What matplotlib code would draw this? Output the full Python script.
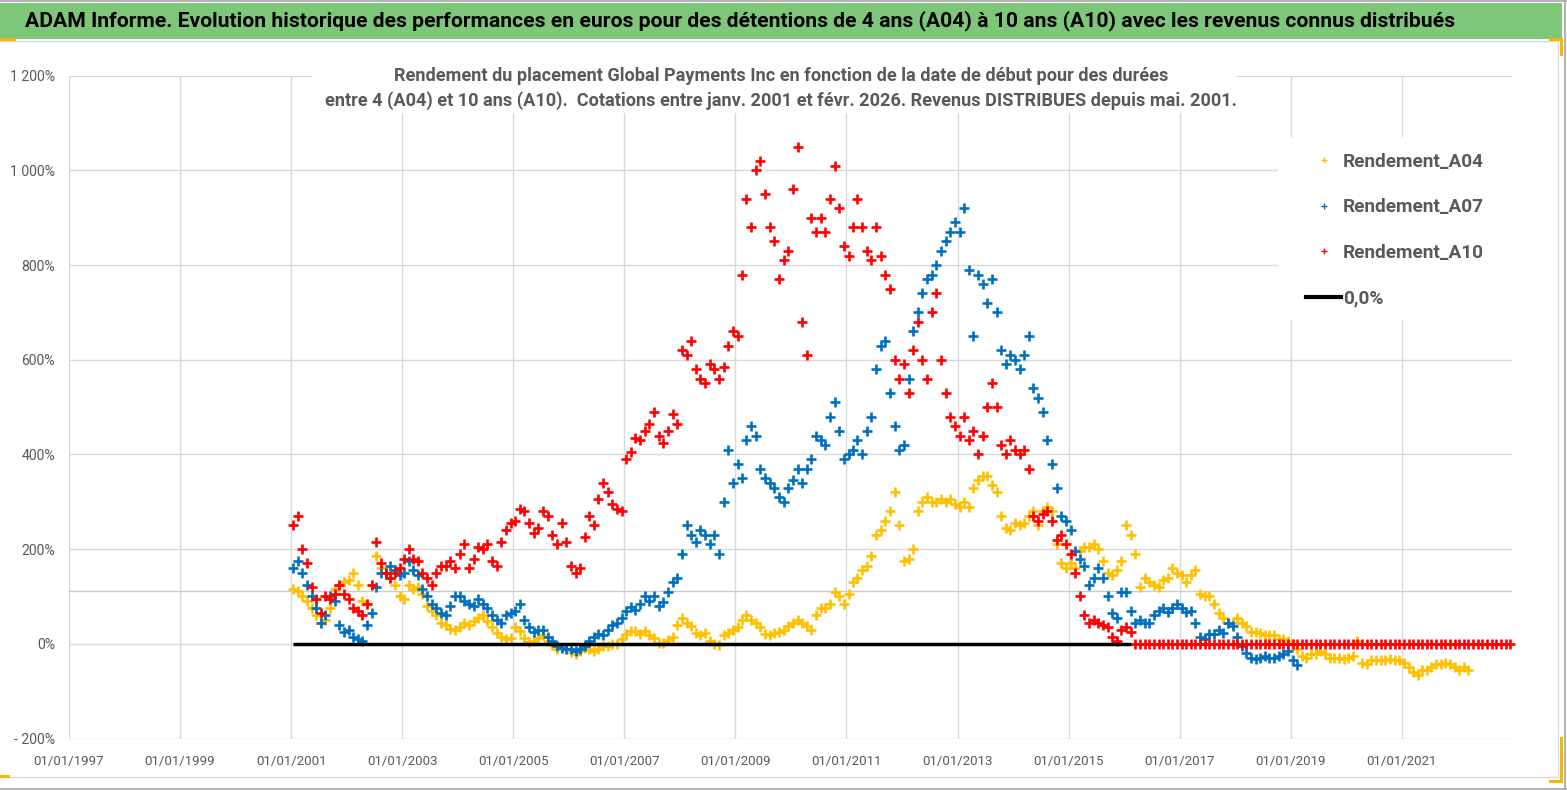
import datetime as dt
import matplotlib
matplotlib.use("Agg")
import matplotlib.pyplot as plt
import matplotlib.dates as mdates
from matplotlib.patches import Rectangle
from matplotlib.lines import Line2D

# ---------------- data ----------------
title = ("ADAM Informe. Evolution historique des performances en euros pour des détentions "
         "de 4 ans (A04) à 10 ans (A10) avec les revenus connus distribués")
subtitle_l1 = "Rendement du placement Global Payments Inc en fonction de la date de début pour des durées"
subtitle_l2 = ("entre 4 (A04) et 10 ans (A10).  Cotations entre janv. 2001 et févr. 2026. "
               "Revenus DISTRIBUES depuis mai. 2001.")
series_names = ["Rendement_A04", "Rendement_A07", "Rendement_A10"]
zero_name = "0,0%"
start_year = 2001  # monthly points from January 2001

a04 = [
    115, 112, 100, 90, 75, 60, 45, 50, 75, 115, 125, 130,
    135, 150, 125, 90, 85, 125, 185, 160, 150, 140, 125, 100,
    95, 125, 115, 120, 105, 80, 70, 60, 45, 40, 32, 30,
    35, 45, 40, 48, 55, 60, 48, 35, 22, 15, 10, 12,
    35, 28, 12, 3, 5, 12, 18, 5, -3, -12, -8, -12,
    -18, -22, -15, -8, -12, -15, -12, -5, -5, 0, 0, 10,
    20, 28, 28, 20, 28, 18, 12, 2, 2, 8, 15, 40,
    55, 45, 38, 22, 18, 22, 5, 0, -2, 18, 22, 30,
    35, 50, 60, 50, 45, 35, 20, 18, 22, 25, 30, 38,
    45, 50, 45, 38, 30, 60, 75, 75, 85, 110, 100, 85,
    105, 130, 140, 155, 165, 185, 230, 240, 260, 280, 320, 250,
    175, 180, 200, 280, 300, 310, 300, 300, 305, 300, 305, 295,
    290, 300, 290, 330, 345, 355, 355, 335, 320, 270, 245, 240,
    255, 250, 255, 270, 280, 250, 280, 290, 280, 210, 170, 160,
    170, 160, 195, 205, 205, 210, 200, 175, 150, 145, 155, 175,
    250, 230, 190, 120, 140, 130, 125, 120, 135, 140, 160, 150,
    145, 130, 145, 155, 105, 100, 100, 85, 65, 55, 45, 45,
    55, 45, 38, 25, 25, 22, 18, 18, 18, 10, 10, 7,
    0, -12, -25, -30, -22, -22, -15, -22, -30, -30, -30, -33,
    -30, -25, 5, -40, -42, -35, -35, -35, -35, -32, -35, -35,
    -40, -50, -60, -65, -55, -55, -50, -42, -42, -40, -42, -50,
    -55, -50, -55,
]

a07 = [
    160, 175, 150, 125, 100, 75, 45, 60, 100, 90, 40, 25,
    30, 15, 10, 5, 40, 65, 120, 150, 150, 165, 155, 145,
    150, 175, 155, 145, 115, 100, 85, 75, 65, 60, 80, 100,
    100, 90, 85, 80, 95, 85, 75, 60, 50, 45, 60, 65,
    70, 85, 50, 35, 25, 30, 30, 15, 5, -5, -8, -10,
    -12, -15, -10, -5, 5, 15, 20, 18, 30, 40, 45, 55,
    70, 78, 72, 85, 100, 90, 100, 80, 88, 110, 130, 140,
    190, 250, 230, 215, 240, 230, 210, 230, 190, 300, 410, 340,
    380, 350, 430, 460, 440, 370, 350, 340, 330, 310, 300, 330,
    345, 370, 340, 370, 390, 440, 430, 420, 480, 510, 450, 390,
    400, 410, 430, 400, 450, 480, 580, 630, 640, 530, 460, 410,
    420, 560, 660, 700, 740, 770, 780, 800, 830, 850, 870, 890,
    870, 920, 790, 650, 780, 760, 720, 770, 700, 620, 590, 610,
    600, 580, 610, 650, 540, 520, 490, 430, 380, 330, 270, 260,
    240, 195, 180, 165, 125, 140, 160, 140, 100, 65, 55, 110,
    110, 70, 45, 50, 45, 45, 60, 70, 75, 68, 75, 85,
    75, 68, 70, 45, 15, 10, 20, 20, 30, 22, 45, 38,
    15, -5, -20, -30, -32, -30, -25, -30, -30, -25, -22, -15,
    -35, -45,
]

a10 = [
    250, 270, 200, 170, 120, 95, 65, 100, 95, 105, 125, 105,
    95, 75, 70, 60, 85, 125, 215, 170, 150, 140, 150, 160,
    180, 200, 180, 175, 150, 140, 125, 150, 165, 165, 175, 160,
    190, 210, 160, 180, 205, 200, 210, 175, 165, 215, 240, 255,
    260, 285, 280, 255, 235, 245, 280, 270, 230, 210, 255, 215,
    165, 150, 160, 225, 270, 250, 305, 340, 320, 295, 285, 280,
    390, 405, 435, 430, 450, 465, 490, 440, 425, 450, 485, 465,
    620, 610, 640, 580, 560, 550, 590, 580, 560, 585, 630, 660,
    650, 780, 940, 880, 1000, 1020, 950, 880, 850, 770, 810, 830,
    960, 1050, 680, 610, 900, 870, 900, 870, 940, 1010, 920, 840,
    820, 880, 940, 880, 830, 810, 880, 820, 780, 750, 600, 560,
    590, 530, 620, 680, 600, 560, 700, 740, 600, 530, 480, 460,
    440, 480, 430, 450, 400, 440, 500, 550, 500, 420, 400, 430,
    410, 400, 410, 370, 270, 260, 275, 280, 260, 220, 230, 210,
    190, 150, 100, 60, 45, 50, 45, 40, 35, 15, 5, 30,
    35, 25,
]
a10_zero_months = 82  # A10 reported at 0 from March 2016 to December 2022
a10_full = a10 + [0] * a10_zero_months

y_ticks = [-200, 0, 200, 400, 600, 800, 1000, 1200]
y_tick_labels = ["- 200%", "0%", "200%", "400%", "600%", "800%", "1 000%", "1 200%"]
x_tick_years = [1997, 1999, 2001, 2003, 2005, 2007, 2009, 2011, 2013, 2015, 2017, 2019, 2021]
extra_line_value = 112

colors = ["#FFC000", "#0070C0", "#FF0000"]
GRAY_TXT = "#595959"
GRID = "#d9d9d9"


def month_dates(n):
    return [dt.date(start_year + i // 12, i % 12 + 1, 15) for i in range(n)]


# ---------------- figure ----------------
W, H = 1567, 790
plt.rcParams["font.family"] = ["Liberation Sans Narrow", "Roboto", "DejaVu Sans"]
fig = plt.figure(figsize=(W / 100, H / 100), dpi=100)
fig.patch.set_facecolor("white")
renderer = fig.canvas.get_renderer()


def size_for(s, target_px, weight="normal"):
    t = fig.text(0, 0, s, fontsize=10, fontweight=weight)
    w = t.get_window_extent(renderer=renderer).width
    t.remove()
    return 10.0 * target_px / w


def fx(px):
    return px / W


def fy(py):
    return 1 - py / H


def rect(x0, y0, x1, y1, color, z=1):
    fig.add_artist(Rectangle((fx(x0), fy(y1)), fx(x1) - fx(x0), fy(y0) - fy(y1),
                             transform=fig.transFigure, facecolor=color,
                             edgecolor="none", zorder=z))


def hline(x0, x1, y, color, lw, z=1):
    fig.add_artist(Line2D([fx(x0), fx(x1)], [fy(y), fy(y)], transform=fig.transFigure,
                          color=color, lw=lw, zorder=z))


def vline(x, y0, y1, color, lw, z=1):
    fig.add_artist(Line2D([fx(x), fx(x)], [fy(y0), fy(y1)], transform=fig.transFigure,
                          color=color, lw=lw, zorder=z))


# axes
ax_l, ax_r, ax_t, ax_b = 69, 1512, 75.7, 738.5
ax = fig.add_axes([fx(ax_l), fy(ax_b), fx(ax_r) - fx(ax_l), fy(ax_t) - fy(ax_b)])
ax.set_facecolor("none")
for sp in ax.spines.values():
    sp.set_visible(False)

ax.set_ylim(-200, 1200)
ax.set_xlim(dt.date(1997, 1, 1), dt.date(2022, 12, 27))
ax.set_yticks(y_ticks)
ax.set_yticklabels(y_tick_labels)
ax.set_xticks([dt.date(y, 1, 1) for y in x_tick_years])
ax.xaxis.set_major_formatter(mdates.DateFormatter("%d/%m/%Y"))
ax.grid(True, color=GRID, lw=1.0)
ax.set_axisbelow(True)
ax.axhline(extra_line_value, color="#cccccc", lw=1.0, zorder=1)

fs_x = size_for("01/01/1997", 70)
fs_y = size_for("1 200%", 45)
ax.tick_params(axis="x", length=0, pad=12, labelsize=fs_x, labelcolor=GRAY_TXT)
ax.tick_params(axis="y", length=0, pad=10, labelsize=fs_y, labelcolor=GRAY_TXT)

mk = dict(linestyle="none", marker="+", markersize=7, markeredgewidth=1.9)
ax.plot(month_dates(len(a04)), a04, color=colors[0], zorder=3, clip_on=False, **mk)
ax.plot(month_dates(len(a07)), a07, color=colors[1], zorder=4, clip_on=False, **mk)
ax.plot(month_dates(len(a10_full)), a10_full, color=colors[2], zorder=5, clip_on=False, **mk)
d10 = month_dates(len(a10))
ax.plot([d10[0], d10[-1]], [0, 0], color="black", lw=2.5, zorder=6, solid_capstyle="butt")

# ---------------- decorations ----------------
rect(0, 3, 1562, 38.5, "#7ec77a", z=1)
hline(0, W, 1, "#a6a6a6", 1.2)
hline(0, 1558, 41, GRID, 1.0)
hline(0, 1558, 777, GRID, 1.0)
vline(1558, 41, 777, GRID, 1.0)
vline(1565, 0, H, "#a6a6a6", 1.2)
hline(0, W, 788.5, "#a6a6a6", 1.2)
# selection handles
YEL = "#f5b800"
rect(0, 38, 16, 41, YEL, z=2)
rect(1549, 38, 1563, 41, YEL, z=2)
rect(1559.5, 38, 1563, 56, YEL, z=2)
rect(0, 775, 10, 778, YEL, z=2)
rect(1559.5, 737, 1563, 783, YEL, z=2)
rect(1549, 779.5, 1563, 783, YEL, z=2)

# white boxes of subtitle and legend
rect(312, 55, 1237, 113, "white", z=1)
rect(1278, 137, 1555, 320, "white", z=1)

# title
fs_title = size_for(title, 1432, "bold")
fig.text(fx(25), fy(21), title, ha="left", va="center", fontsize=fs_title,
         fontweight="bold", color="black", zorder=3)

# subtitle
fs_sub = size_for(subtitle_l2, 911, "bold")
fig.text(fx(781), fy(88.5), subtitle_l1 + "\n" + subtitle_l2, ha="center", va="center",
         multialignment="center", fontsize=fs_sub, fontweight="bold", color=GRAY_TXT,
         linespacing=1.45, zorder=3)

# legend
fs_leg = size_for("Rendement_A04", 141, "bold")
em = fs_leg * 100 / 72
handles = [Line2D([], [], linestyle="none", marker="+", markersize=4.5,
                  markeredgewidth=1.0, color=c) for c in colors]
handles.append(Line2D([], [], color="black", lw=3))
fig.legend(handles, series_names + [zero_name], loc="upper left",
           bbox_to_anchor=(fx(1306), fy(153)), bbox_transform=fig.transFigure,
           frameon=False, prop={"weight": "bold", "size": fs_leg}, labelcolor=GRAY_TXT,
           handlelength=35 / em, handletextpad=2 / em, borderpad=0, borderaxespad=0,
           labelspacing=(49.7 - 1.17 * em) / em)

fig.savefig("out.png", dpi=100, facecolor="white")
